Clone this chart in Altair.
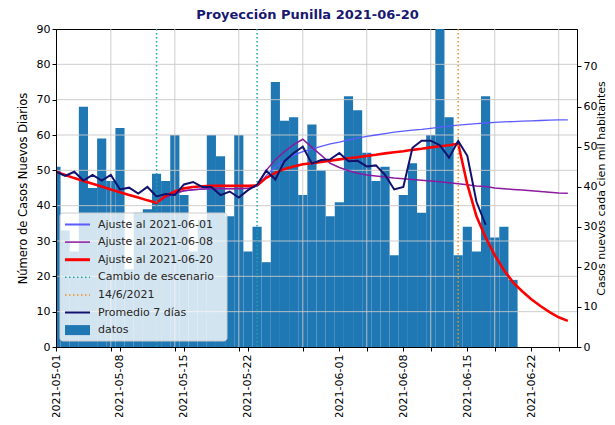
import altair as alt
import pandas as pd

TITULO = "Proyección Punilla 2021-06-20"
HABITANTES = 113420  # casos -> casos cada cien mil habitantes

# Casos diarios, 2021-05-01 .. 2021-06-20
casos = [51, 33, 27, 68, 45, 59, 47, 62, 22, 38, 39, 49, 47, 60, 43, 27, 36, 60, 54, 37,
         60, 27, 34, 24, 75, 64, 65, 43, 63, 50, 37,
         41, 71, 67, 55, 47, 51, 26, 43, 52, 38, 60, 125, 65, 26, 34, 27, 71, 31, 34, 19]

# Promedio 7 días, 2021-05-01 .. 2021-06-17
promedio_7d = [49.6, 48.4, 49.6, 47.1, 48.7, 47.1, 48.7, 44.6, 45.1, 43.4,
               45.3, 42.6, 43.3, 43.0, 46.0, 46.7, 45.3, 45.3, 43.0, 44.0,
               42.3, 44.4, 45.9, 49.9, 47.4, 52.6, 54.9, 56.7, 51.9, 52.9, 53.1,
               54.9, 52.6, 52.7, 51.1, 51.4, 48.7, 44.6, 45.3, 56.4, 58.4,
               58.4, 57.1, 53.6, 58.3, 54.1, 41.1, 34.6]

# Ajuste al 2021-06-20, 2021-05-01 .. 2021-06-26
ajuste_0620 = [49.6, 48.7, 47.8, 47.0, 46.2, 45.4, 44.6, 43.8, 43.0, 42.3, 41.5, 40.8,
               42.8, 44.0, 44.9, 45.3, 45.5, 45.6, 45.6, 45.6, 45.6, 45.6, 45.7,
               47.9, 49.3, 50.4, 51.1, 51.7, 52.0, 52.4, 52.7,
               53.1, 53.4, 53.7, 54.1, 54.4, 54.8, 55.1, 55.4, 55.8, 56.1, 56.5, 56.8, 57.1, 57.5,
               46.0, 37.0, 31.0, 26.0, 21.8, 18.3, 15.8, 13.5, 11.6, 9.9, 8.4, 7.4]

# Ajuste al 2021-06-01, 2021-05-12 .. 2021-06-26
ajuste_0601 = [40.8, 42.4, 43.5, 44.2, 44.5, 44.7, 44.8, 44.8, 44.8, 44.8, 44.9,
               45.5, 48.5, 51.0, 52.9, 54.3, 55.3, 56.0, 56.8, 57.5,
               58.0, 58.6, 59.1, 59.6, 60.0, 60.4, 60.8, 61.1, 61.4, 61.6,
               61.9, 62.2, 62.5, 62.8, 63.0, 63.2, 63.4, 63.6, 63.7, 63.8,
               63.9, 64.0, 64.1, 64.2, 64.3, 64.3]

# Ajuste al 2021-06-08, 2021-05-12 .. 2021-06-26
ajuste_0608 = [40.8, 42.4, 43.5, 44.2, 44.5, 44.7, 44.8, 44.8, 44.8, 44.8, 44.9,
               45.6, 50.0, 53.0, 55.3, 57.3, 58.8, 56.5, 54.3, 52.0,
               50.8, 49.9, 49.2, 48.7, 48.4, 48.1, 47.8, 47.6, 47.4, 47.2,
               47.0, 46.8, 46.5, 46.2, 45.9, 45.6, 45.4, 45.0, 44.8, 44.6,
               44.4, 44.2, 44.0, 43.8, 43.6, 43.5]

cambios_escenario = ["2021-05-12", "2021-05-23"]
fecha_14_6 = ["2021-06-14"]
ticks_x = ["2021-05-01", "2021-05-08", "2021-05-15", "2021-05-22",
           "2021-06-01", "2021-06-08", "2021-06-15", "2021-06-22"]
grilla_x = ["2021-05-07", "2021-05-14", "2021-05-21", "2021-05-28",
            "2021-06-04", "2021-06-11", "2021-06-18", "2021-06-25"]
dominio_x = ["2021-05-01", "2021-06-27"]
ticks_y = [0, 10, 20, 30, 40, 50, 60, 70, 80, 90]
ticks_y_der = [0, 10, 20, 30, 40, 50, 60, 70]

LEYENDA = ["Ajuste al 2021-06-01", "Ajuste al 2021-06-08", "Ajuste al 2021-06-20",
           "Cambio de escenario", "14/6/2021", "Promedio 7 días", "datos"]

FONT = "DejaVu Sans"
C_BAR = "#1f77b4"
C_0601 = "#5b5bff"
C_0608 = "#8b1aa0"
C_0620 = "#ff0000"
C_CAMBIO = "#1fa3a8"
C_1406 = "#f0901c"
C_PROM = "#12126e"
C_GRID = "#c8c8c8"
W, H = 521, 318


def serie(inicio, valores):
    return pd.DataFrame({"fecha": pd.date_range(inicio, periods=len(valores), freq="D"),
                         "valor": valores})


def dt(s):
    y, m, d = (int(p) for p in s.split("-"))
    return alt.DateTime(year=y, month=m, date=d)


def uno(texto=""):
    return pd.DataFrame({"t": [texto]})


df_casos = serie("2021-05-01", casos).rename(columns={"valor": "casos"})
df_prom = serie("2021-05-01", promedio_7d)
df_0620 = serie("2021-05-01", ajuste_0620)
df_0601 = serie("2021-05-12", ajuste_0601)
df_0608 = serie("2021-05-12", ajuste_0608)
df_cambios = pd.DataFrame({"fecha": pd.to_datetime(cambios_escenario)})
df_1406 = pd.DataFrame({"fecha": pd.to_datetime(fecha_14_6)})
df_grilla = pd.DataFrame({"fecha": pd.to_datetime(grilla_x)})
df_grilla_y = pd.DataFrame({"v": ticks_y[1:-1]})

xscale = alt.Scale(domain=[dt(s) for s in dominio_x], nice=False)
label_expr = ("indexof([" + ",".join("'%s'" % s for s in ticks_x) + "], timeFormat(datum.value, '%Y-%m-%d')) >= 0"
              " ? timeFormat(datum.value, '%Y-%m-%d') : ''")
xaxis = alt.Axis(values=[dt(s) for s in ticks_x + grilla_x], labelExpr=label_expr,
                 labelAngle=270, labelAlign="right", labelBaseline="middle",
                 grid=False, title=None, labelPadding=3, zindex=1)
yscale = alt.Scale(domain=[ticks_y[0], ticks_y[-1]], nice=False)
yaxis = alt.Axis(values=ticks_y, title="Número de Casos Nuevos Diarios",
                 grid=False, zindex=1, titlePadding=8)


def X(field):
    return alt.X(field, type="temporal", scale=xscale, axis=xaxis)


def Y(field):
    return alt.Y(field, type="quantitative", scale=yscale, axis=yaxis)


barras = alt.Chart(df_casos).transform_calculate(
    ini="toDate(datum.fecha) - 43200000", fin="toDate(datum.fecha) + 43200000"
).mark_bar(color=C_BAR, clip=True).encode(
    x=X("ini"), x2="fin:T", y=Y("casos"), y2=alt.datum(0)
)

grilla = alt.Chart(df_grilla).mark_rule(color=C_GRID, strokeWidth=0.9).encode(x=X("fecha"))
grilla_y = alt.Chart(df_grilla_y).mark_rule(color=C_GRID, strokeWidth=0.9).encode(y=Y("v"))


def linea(df, color, w):
    return alt.Chart(df).mark_line(color=color, strokeWidth=w, clip=True).encode(
        x=X("fecha"), y=Y("valor"))


l0601 = linea(df_0601, C_0601, 1.3)
l0608 = linea(df_0608, C_0608, 1.5)
l0620 = linea(df_0620, C_0620, 2.6)
lprom = linea(df_prom, C_PROM, 2.0)
vcambio = alt.Chart(df_cambios).mark_rule(color=C_CAMBIO, strokeWidth=1.5, strokeDash=[1.5, 2.5]).encode(x=X("fecha"))
v1406 = alt.Chart(df_1406).mark_rule(color=C_1406, strokeWidth=1.5, strokeDash=[1.5, 2.5]).encode(x=X("fecha"))

# --- leyenda (posiciones en píxeles del área de trazado) ---
LX0, LX1, LY0, LY1 = 4, 171, 184, 312
ROW0, STEP = 195.5, 17.6
estilos = [
    dict(color=C_0601, strokeWidth=2),
    dict(color=C_0608, strokeWidth=1.5),
    dict(color=C_0620, strokeWidth=3),
    dict(color=C_CAMBIO, strokeWidth=1.5, strokeDash=[1.5, 2.5]),
    dict(color=C_1406, strokeWidth=1.5, strokeDash=[1.5, 2.5]),
    dict(color=C_PROM, strokeWidth=2),
    None,
]
capas_ley = [
    alt.Chart(uno()).mark_rect(fill="white", fillOpacity=0.8, stroke="#cccccc",
                               strokeWidth=1, cornerRadius=3).encode(
        x=alt.value(LX0), x2=alt.value(LX1), y=alt.value(LY0), y2=alt.value(LY1))
]
for i, (lab, est) in enumerate(zip(LEYENDA, estilos)):
    yy = ROW0 + i * STEP
    if est is None:
        capas_ley.append(alt.Chart(uno(lab)).mark_rect(color=C_BAR).encode(
            x=alt.value(9), x2=alt.value(34), y=alt.value(yy - 5), y2=alt.value(yy + 5)))
    else:
        capas_ley.append(alt.Chart(uno(lab)).mark_rule(**est).encode(
            x=alt.value(9), x2=alt.value(34), y=alt.value(yy)))
    capas_ley.append(alt.Chart(uno(lab)).mark_text(
        align="left", baseline="middle", font=FONT, fontSize=11, color="#262626"
    ).encode(text="t:N", x=alt.value(42), y=alt.value(yy)))

# título centrado sobre la figura (suptitle)
titulo = alt.Chart(uno(TITULO)).mark_text(
    align="center", baseline="middle", font=FONT, fontSize=13,
    fontWeight="bold", color="#191970"
).encode(text="t:N", x=alt.value(251.5), y=alt.value(-14))

izq = alt.layer(barras, grilla, grilla_y, l0601, l0608, l0620, vcambio, v1406, lprom,
                *capas_ley, titulo)

der = alt.Chart(df_casos).transform_calculate(
    tasa="datum.casos * 100000 / %d" % HABITANTES
).mark_point(opacity=0).encode(
    x=X("fecha"),
    y=alt.Y("tasa:Q", scale=alt.Scale(domain=[0, 90 * 100000 / HABITANTES], nice=False),
            axis=alt.Axis(orient="right", values=ticks_y_der, grid=False,
                          title="Casos nuevos cada cien mil habitantes", titleAngle=270,
                          titleX=24, titleY=H / 2, titleAlign="center",
                          titleBaseline="middle", titleFontSize=11))
)

chart = alt.layer(izq, der).resolve_scale(y="independent").properties(
    width=W, height=H,
    autosize=alt.AutoSizeParams(type="none"),
    padding={"left": 48, "top": 21, "right": 30, "bottom": 70},
).configure_axis(
    labelFont=FONT, labelFontSize=11, labelColor="black",
    titleFont=FONT, titleFontSize=11.5, titleFontWeight="normal", titleColor="black",
    tickColor="black", domainColor="black", tickSize=4,
).configure_view(stroke="black", strokeWidth=1)

chart.save("out.html", embed_options={"renderer": "svg", "actions": False})
